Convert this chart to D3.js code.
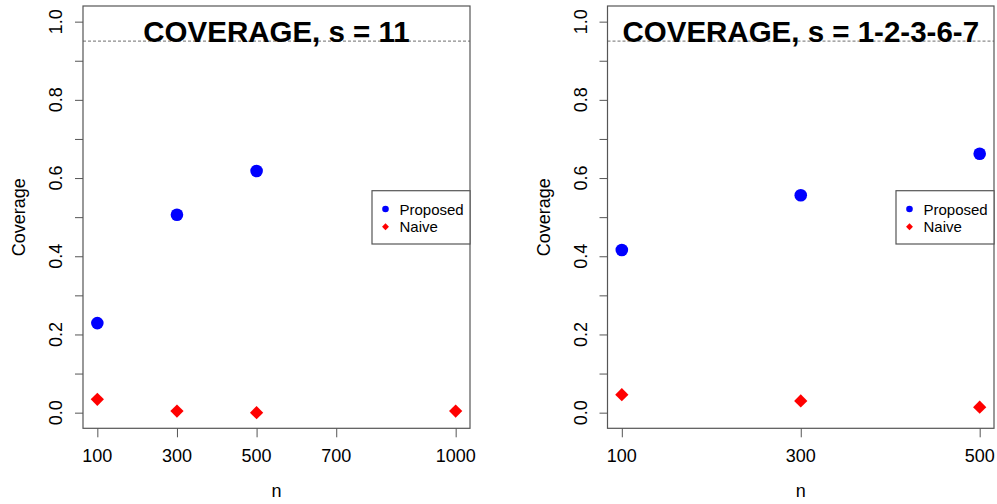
<!DOCTYPE html>
<html>
<head>
<meta charset="utf-8">
<script src="https://cdn.jsdelivr.net/npm/d3@7"></script>
<style>
  body { margin: 0; background: #fff; }
  svg { display: block; font-family: "Liberation Sans", Arial, sans-serif; }
</style>
</head>
<body>
<svg id="chart" width="997" height="504"></svg>
<script>
// panel 1: s = 11
const nLeft = [100, 300, 500, 1000];
const proposedLeft = [0.229, 0.506, 0.618, null];
const naiveLeft = [0.034, 0.004, 0.0, 0.004];
const xTicksLeft = [100, 300, 500, 700, 1000];

// panel 2: s = 1-2-3-6-7
const nRight = [100, 300, 500];
const proposedRight = [0.416, 0.556, 0.662];
const naiveRight = [0.046, 0.030, 0.014];
const xTicksRight = [100, 300, 500];

const yTicks = [0, 0.1, 0.2, 0.3, 0.4, 0.5, 0.6, 0.7, 0.8, 0.9, 1.0];
const target = 0.95;

const svg = d3.select("#chart");

function drawPanel(opt) {
    const g = svg.append("g");
    const [xmin, xmax] = d3.extent(opt.n);
    const xpad = (xmax - xmin) * 0.04;
    const x = d3.scaleLinear().domain([xmin - xpad, xmax + xpad]).range([opt.left, opt.right]);
    const y = d3.scaleLinear().domain([-0.04, 1.04]).range([428.3, 6]);

    // reference line
    g.append("line")
        .attr("x1", opt.left).attr("x2", opt.right)
        .attr("y1", y(target)).attr("y2", y(target))
        .attr("stroke", "#8c8c8c").attr("stroke-width", 1.3)
        .attr("stroke-dasharray", "3,2");

    // axes
    const yAxis = g.append("g")
        .attr("transform", `translate(${opt.left},0)`)
        .call(d3.axisLeft(y).tickValues(yTicks).tickSize(8).tickFormat(""));
    yAxis.select(".domain").remove();
    yAxis.selectAll("line").attr("stroke", "#555");

    g.selectAll(".ylab")
        .data(yTicks.filter((d, i) => i % 2 === 0))
        .enter()
        .append("text")
        .attr("transform", d => `translate(${opt.left - 21},${y(d)}) rotate(-90)`)
        .attr("text-anchor", "middle")
        .attr("font-size", 18)
        .text(d => d.toFixed(1));

    const xAxis = g.append("g")
        .attr("transform", "translate(0,428.3)")
        .call(d3.axisBottom(x).tickValues(opt.ticks).tickSize(9).tickFormat(""));
    xAxis.select(".domain").remove();
    xAxis.selectAll("line").attr("stroke", "#555");

    g.selectAll(".xlab")
        .data(opt.ticks)
        .enter()
        .append("text")
        .attr("x", d => x(d))
        .attr("y", 461.5)
        .attr("text-anchor", "middle")
        .attr("font-size", 18)
        .text(d => d);

    // box
    g.append("rect")
        .attr("x", opt.left).attr("y", 6)
        .attr("width", opt.right - opt.left).attr("height", 422.3)
        .attr("fill", "none").attr("stroke", "#555").attr("stroke-width", 1.2);

    // points
    const prop = opt.n.map((d, i) => ({ n: d, v: opt.proposed[i] })).filter(d => d.v !== null);
    const naive = opt.n.map((d, i) => ({ n: d, v: opt.naive[i] }));

    g.selectAll(".prop")
        .data(prop)
        .enter()
        .append("circle")
        .attr("cx", d => x(d.n))
        .attr("cy", d => y(d.v))
        .attr("r", 6.3)
        .attr("fill", "#0000ff");

    g.selectAll(".naive")
        .data(naive)
        .enter()
        .append("path")
        .attr("d", d3.symbol(d3.symbolSquare, 88))
        .attr("transform", d => `translate(${x(d.n)},${y(d.v)}) rotate(45)`)
        .attr("fill", "#ff0000");

    // title
    g.append("text")
        .attr("x", (opt.left + opt.right) / 2)
        .attr("y", 42.3)
        .attr("text-anchor", "middle")
        .attr("font-size", 29.5)
        .attr("font-weight", "bold")
        .text(opt.title);

    // axis titles
    g.append("text")
        .attr("x", (opt.left + opt.right) / 2)
        .attr("y", 497)
        .attr("text-anchor", "middle")
        .attr("font-size", 18)
        .text("n");

    g.append("text")
        .attr("transform", `translate(${opt.left - 58},${(6 + 428.3) / 2}) rotate(-90)`)
        .attr("text-anchor", "middle")
        .attr("font-size", 18)
        .text("Coverage");

    // legend
    const lg = g.append("g").attr("transform", `translate(${opt.right - 98},190.7)`);
    lg.append("rect")
        .attr("width", 98).attr("height", 53.3)
        .attr("fill", "#fff").attr("stroke", "#555").attr("stroke-width", 1.2);
    lg.append("circle")
        .attr("cx", 13.5).attr("cy", 18.3).attr("r", 3.3)
        .attr("fill", "#0000ff");
    lg.append("path")
        .attr("d", d3.symbol(d3.symbolSquare, 24))
        .attr("transform", "translate(13.5,36) rotate(45)")
        .attr("fill", "#ff0000");
    lg.append("text")
        .attr("x", 27.5).attr("y", 24)
        .attr("font-size", 15)
        .text("Proposed");
    lg.append("text")
        .attr("x", 27.5).attr("y", 41.5)
        .attr("font-size", 15)
        .text("Naive");
}

drawPanel({
    left: 83, right: 470, n: nLeft, ticks: xTicksLeft,
    proposed: proposedLeft, naive: naiveLeft,
    title: "COVERAGE, s = 11"
});

drawPanel({
    left: 607.5, right: 994, n: nRight, ticks: xTicksRight,
    proposed: proposedRight, naive: naiveRight,
    title: "COVERAGE, s = 1-2-3-6-7"
});
</script>
</body>
</html>
